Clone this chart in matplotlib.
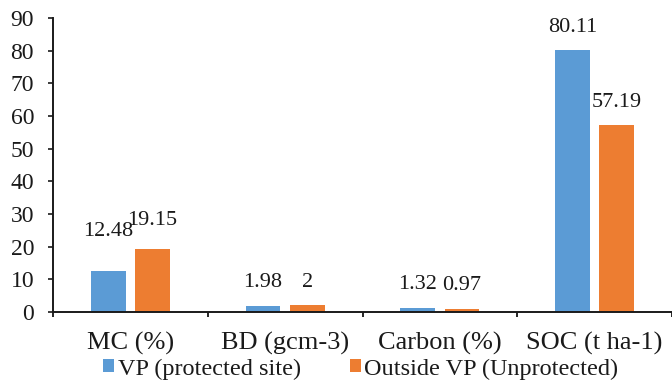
import numpy as np
import matplotlib
matplotlib.use('Agg')
import matplotlib.pyplot as plt

plt.rcParams['font.family'] = ['Liberation Serif', 'DejaVu Serif']

categories = ['MC (%)', 'BD (gcm-3)', 'Carbon (%)', 'SOC (t ha-1)']
protected = [12.48, 1.98, 1.32, 80.11]
unprotected = [19.15, 2, 0.97, 57.19]
series_names = ['VP (protected site)', 'Outside VP (Unprotected)']
y_ticks = [0, 10, 20, 30, 40, 50, 60, 70, 80, 90]

# extra lift (px) for the MC labels, which sit higher than the rest
label_lift = [[17, 6], [0, 0], [0, 0], [0, 0]]

BLUE = '#5B9BD5'
ORANGE = '#ED7D31'

fig = plt.figure(figsize=(6.72, 3.88), dpi=100)
ax = fig.add_axes([53 / 672, 76 / 388, 1 - 53 / 672, 294 / 388])

x = np.arange(len(categories))
w = 0.226
off = 0.143
b1 = ax.bar(x - off, protected, w, color=BLUE, label=series_names[0])
b2 = ax.bar(x + off, unprotected, w, color=ORANGE, label=series_names[1])

def fmt(v):
    return ('%g' % v)

for i, (bars, vals) in enumerate([(b1, protected), (b2, unprotected)]):
    for j, (r, v) in enumerate(zip(bars, vals)):
        dy = (23 + label_lift[j][i]) * 72 / 100
        ax.annotate(fmt(v), (r.get_x() + r.get_width() / 2, v),
                    xytext=(0, dy), textcoords='offset points',
                    ha='center', va='center', fontsize=16, color='#1a1a1a')

ax.set_xlim(-0.5, 3.5)
ax.set_ylim(0, 90)
ax.set_yticks(y_ticks)
ax.tick_params(axis='y', direction='out', length=3.6, width=1.2, pad=10,
               labelsize=17, colors='#1a1a1a')

# category labels between the boundary ticks
ax.set_xticks(np.arange(-0.5, 4.0, 1.0))
ax.set_xticklabels([])
ax.set_xticks(x, categories, minor=True)
ax.tick_params(axis='x', which='major', direction='out', length=3.6, width=1.2)
ax.tick_params(axis='x', which='minor', length=0, pad=14, labelsize=19,
               colors='#1a1a1a')

for s in ['top', 'right']:
    ax.spines[s].set_visible(False)
for s in ['left', 'bottom']:
    ax.spines[s].set_linewidth(1.4)
    ax.spines[s].set_color('#1a1a1a')

leg = fig.legend(loc='center', bbox_to_anchor=(361 / 672, 1 - 369 / 388),
                 ncol=2, frameon=False, fontsize=17.5, handlelength=0.45,
                 handleheight=0.45, handletextpad=0.15, columnspacing=2.0,
                 borderaxespad=0, borderpad=0)
for t in leg.get_texts():
    t.set_color('#1a1a1a')

fig.savefig('out.png', dpi=100)
